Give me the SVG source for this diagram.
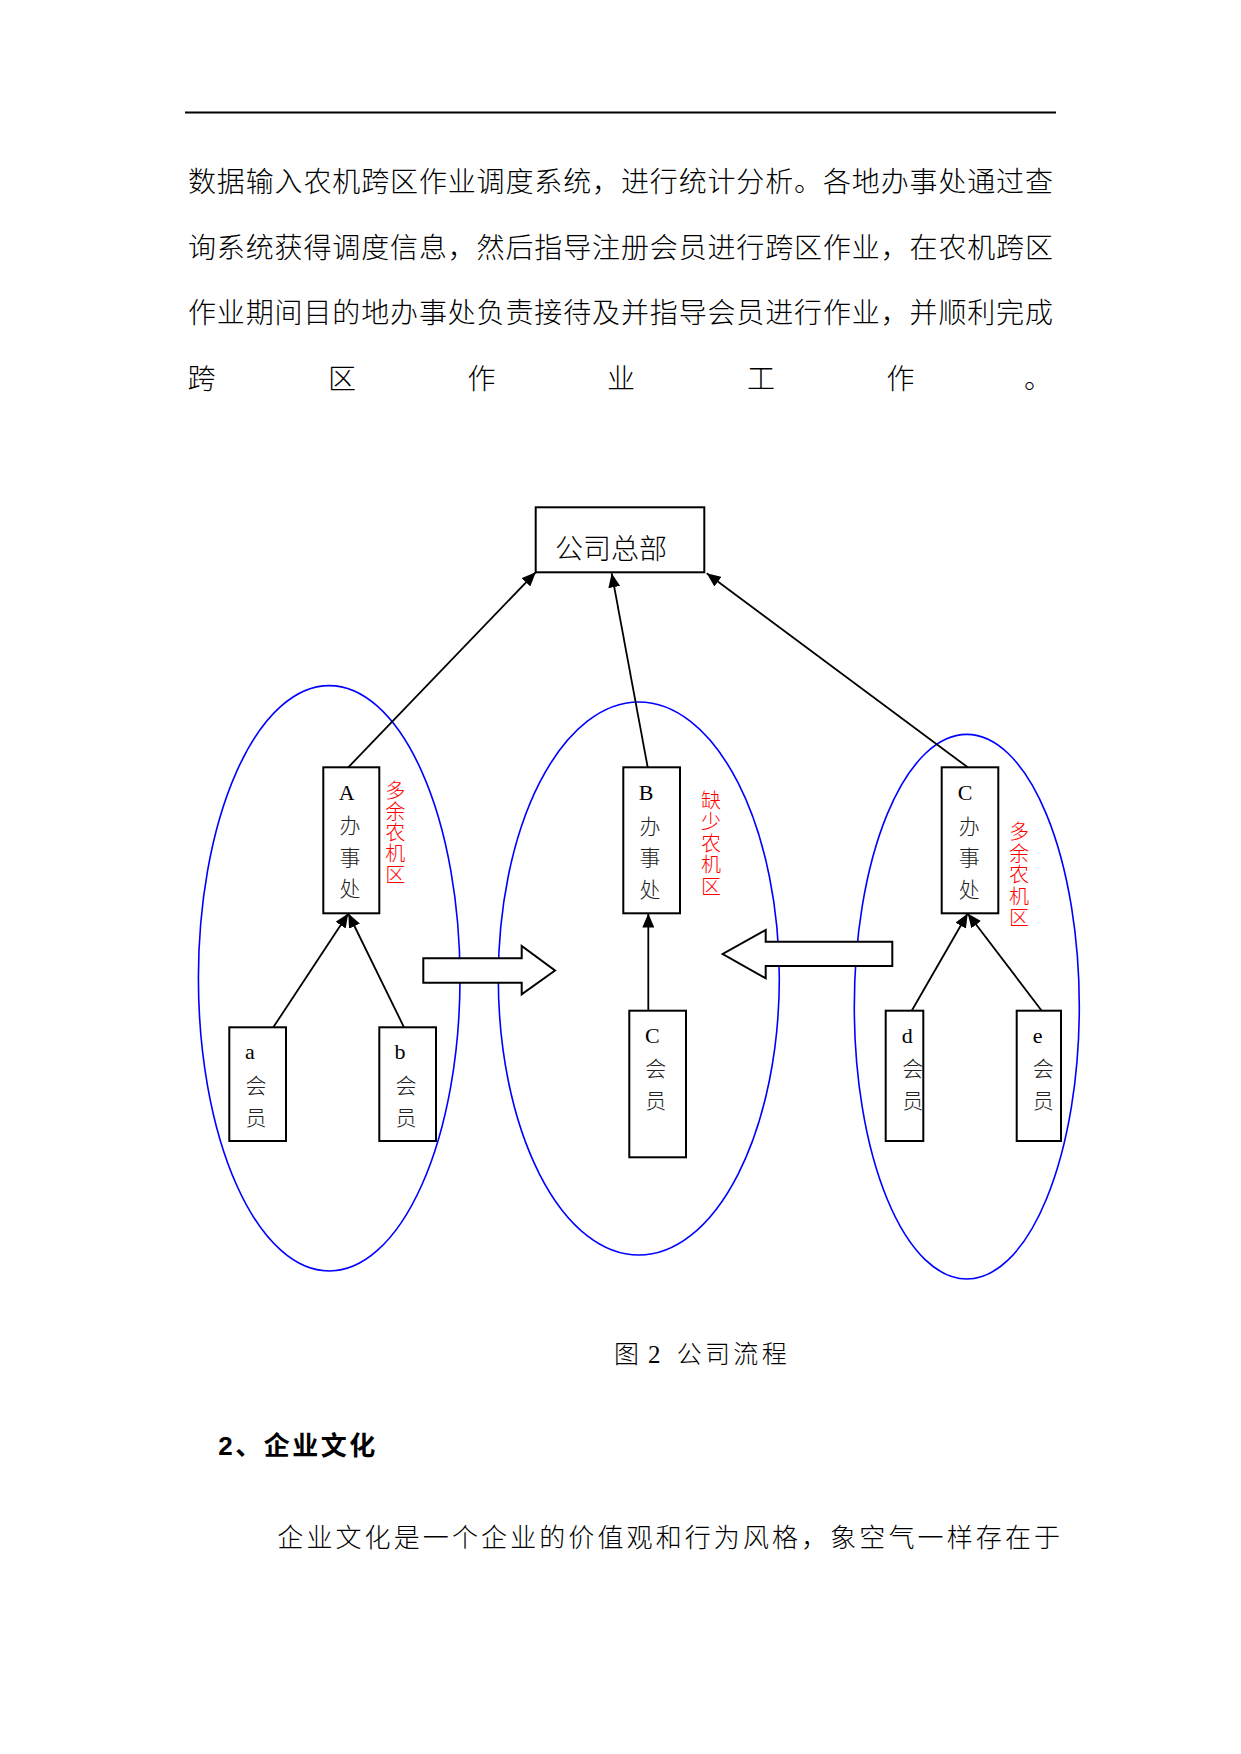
<svg xmlns="http://www.w3.org/2000/svg" width="1241" height="1754" viewBox="0 0 1241 1754">
<style>
  .body { font-family: "Noto Sans CJK SC", sans-serif; font-size: 28px; fill: #000; font-weight: 300; }
  .box { fill: #fff; stroke: #000; stroke-width: 2; }
  .lbl { font-family: "Liberation Serif", "Noto Sans CJK SC", serif; font-size: 22px; fill: #000; text-anchor: middle; }
  .cjk { font-family: "Noto Sans CJK SC", sans-serif; font-size: 21px; fill: #222; text-anchor: middle; font-weight: 300; }
  .red { font-family: "Noto Sans CJK SC", sans-serif; font-size: 20px; fill: #ff0000; font-weight: 300; writing-mode: vertical-rl; text-orientation: upright; letter-spacing: 1px; }
  .zone { fill: none; stroke: #0000ff; stroke-width: 1.6; }
  .conn { fill: none; stroke: #000; stroke-width: 1.8; }
  .block { fill: #fff; stroke: #000; stroke-width: 2; }
</style>
<defs>
  <marker id="arr" markerUnits="userSpaceOnUse" markerWidth="14" markerHeight="12" viewBox="0 0 14 12" refX="14" refY="6" orient="auto">
    <path d="M0,0 L14,6 L0,12 z" fill="#000"/>
  </marker>
</defs>
<rect x="0" y="0" width="1241" height="1754" fill="#fff"/>

<g id="page-text">
  <line x1="185" y1="112.5" x2="1056" y2="112.5" stroke="#000" stroke-width="2.2"/>
  <text class="body" x="188" y="192" textLength="865" lengthAdjust="spacing">数据输入农机跨区作业调度系统，进行统计分析。各地办事处通过查</text>
  <text class="body" x="188" y="257.5" textLength="865" lengthAdjust="spacing">询系统获得调度信息，然后指导注册会员进行跨区作业，在农机跨区</text>
  <text class="body" x="188" y="323" textLength="865" lengthAdjust="spacing">作业期间目的地办事处负责接待及并指导会员进行作业，并顺利完成</text>
  <text class="body" x="187.5 328 467.5 607 747 886.5 1024" y="388.5">跨区作业工作。</text>
</g>

<g id="zones">
  <ellipse id="zone-A" class="zone" cx="329.2" cy="978.3" rx="130.8" ry="292.7"/>
  <ellipse id="zone-B" class="zone" cx="638.8" cy="978.5" rx="140.5" ry="276.5"/>
  <ellipse id="zone-C" class="zone" cx="966.8" cy="1006.7" rx="112.5" ry="272.3"/>
</g>

<g id="connectors">
  <line class="conn" x1="348.3" y1="767.3" x2="535.7" y2="572.3" marker-end="url(#arr)"/>
  <line class="conn" x1="647.7" y1="767.3" x2="611.7" y2="573.3" marker-end="url(#arr)"/>
  <line class="conn" x1="967.7" y1="767.3" x2="706.7" y2="573.3" marker-end="url(#arr)"/>
  <line class="conn" x1="273.3" y1="1027.3" x2="348.3" y2="913.5" marker-end="url(#arr)"/>
  <line class="conn" x1="404" y1="1027.3" x2="348.3" y2="913.5" marker-end="url(#arr)"/>
  <line class="conn" x1="648.3" y1="1010.7" x2="648.3" y2="913.5" stroke-width="3.6" marker-end="url(#arr)"/>
  <line class="conn" x1="911.7" y1="1010.7" x2="967.7" y2="913.5" marker-end="url(#arr)"/>
  <line class="conn" x1="1041.7" y1="1010.7" x2="967.7" y2="913.5" marker-end="url(#arr)"/>
  <polygon id="move-right" class="block" points="423.3,958.3 521.7,958.3 521.7,946 555,970.5 521.7,994.3 521.7,982.7 423.3,982.7"/>
  <polygon id="move-left" class="block" points="892.3,941.7 765.7,941.7 765.7,930 722.7,954 765.7,978.3 765.7,966 892.3,966"/>
</g>

<g id="hq">
  <rect class="box" x="535.7" y="507.3" width="168.6" height="65"/>
  <text x="555" y="559" font-family="Noto Sans CJK SC, sans-serif" font-size="28" font-weight="300" textLength="112" lengthAdjust="spacing">公司总部</text>
</g>

<g id="office-A">
  <rect class="box" x="323.3" y="767.3" width="56" height="146"/>
  <text class="lbl" x="346.7" y="800">A</text>
  <text class="cjk" x="350" y="833">办</text>
  <text class="cjk" x="350" y="864.5">事</text>
  <text class="cjk" x="350" y="896">处</text>
  <text class="red" x="395.3" y="780">多余农机区</text>
</g>

<g id="office-B">
  <rect class="box" x="623.3" y="767.3" width="56.7" height="146"/>
  <text class="lbl" x="646" y="799.5">B</text>
  <text class="cjk" x="650" y="834">办</text>
  <text class="cjk" x="650" y="864.5">事</text>
  <text class="cjk" x="650" y="896.5">处</text>
  <text class="red" x="711" y="790" style="letter-spacing:1.5px">缺少农机区</text>
</g>

<g id="office-C">
  <rect class="box" x="941.7" y="767.3" width="56.6" height="146"/>
  <text class="lbl" x="965" y="799.5">C</text>
  <text class="cjk" x="969.3" y="834">办</text>
  <text class="cjk" x="969.3" y="864.5">事</text>
  <text class="cjk" x="969.3" y="896.5">处</text>
  <text class="red" x="1019" y="821.7" style="letter-spacing:1.5px">多余农机区</text>
</g>

<g id="member-a">
  <rect class="box" x="229.3" y="1027.3" width="56.7" height="113.7"/>
  <text class="lbl" x="250" y="1059.3">a</text>
  <text class="cjk" x="256" y="1093">会</text>
  <text class="cjk" x="256" y="1124.5">员</text>
</g>

<g id="member-b">
  <rect class="box" x="379.3" y="1027.3" width="56.7" height="113.7"/>
  <text class="lbl" x="400" y="1059.3">b</text>
  <text class="cjk" x="406" y="1093">会</text>
  <text class="cjk" x="406" y="1124.5">员</text>
</g>

<g id="member-C">
  <rect class="box" x="629.3" y="1010.7" width="56.7" height="146.6"/>
  <text class="lbl" x="652.3" y="1043.3">C</text>
  <text class="cjk" x="655.7" y="1076.3">会</text>
  <text class="cjk" x="655.7" y="1108">员</text>
</g>

<g id="member-d">
  <rect class="box" x="885.7" y="1010.7" width="37.6" height="130.3"/>
  <text class="lbl" x="907.3" y="1043.3">d</text>
  <text class="cjk" x="912.7" y="1076.3">会</text>
  <text class="cjk" x="912.7" y="1108">员</text>
</g>

<g id="member-e">
  <rect class="box" x="1016.7" y="1010.7" width="44.3" height="130.3"/>
  <text class="lbl" x="1037.7" y="1043.3">e</text>
  <text class="cjk" x="1043.3" y="1076.3">会</text>
  <text class="cjk" x="1043.3" y="1108">员</text>
</g>

<g id="caption">
  <text font-family="Liberation Serif, Noto Sans CJK SC, serif" font-size="25" font-weight="300" y="1363"><tspan x="614" font-family="Noto Sans CJK SC, sans-serif">图</tspan><tspan x="648">2</tspan><tspan x="676.7" font-family="Noto Sans CJK SC, sans-serif">公</tspan><tspan x="705" font-family="Noto Sans CJK SC, sans-serif">司</tspan><tspan x="733.3" font-family="Noto Sans CJK SC, sans-serif">流</tspan><tspan x="761.7" font-family="Noto Sans CJK SC, sans-serif">程</tspan></text>
</g>

<g id="section">
  <text x="218.3" y="1455" font-family="Liberation Sans, Noto Sans CJK SC, sans-serif" font-size="26" font-weight="bold" textLength="157" lengthAdjust="spacing">2、企业文化</text>
  <text x="277.3" y="1547" font-family="Noto Sans CJK SC, sans-serif" font-size="26" font-weight="300" textLength="782.7" lengthAdjust="spacing">企业文化是一个企业的价值观和行为风格，象空气一样存在于</text>
</g>
</svg>
